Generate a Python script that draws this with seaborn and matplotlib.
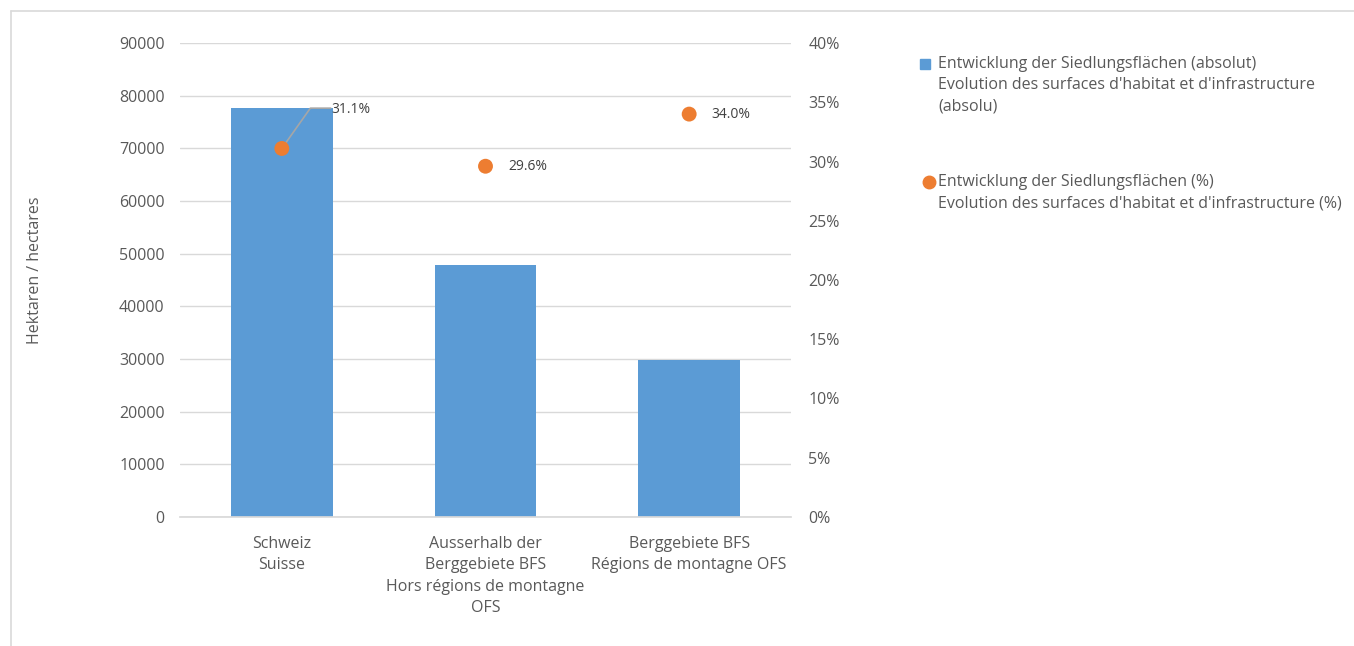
import matplotlib
matplotlib.use("Agg")
import matplotlib.pyplot as plt
import seaborn as sns
import pandas as pd
from matplotlib.lines import Line2D

categories = ["Schweiz\nSuisse",
              "Ausserhalb der\nBerggebiete BFS\nHors régions de montagne\nOFS",
              "Berggebiete BFS\nRégions de montagne OFS"]
absolute_ha = [77600, 47850, 29800]
percent = [31.1, 29.6, 34.0]
pct_labels = ["31.1%", "29.6%", "34.0%"]
left_ticks = [0, 10000, 20000, 30000, 40000, 50000, 60000, 70000, 80000, 90000]
right_ticks = [0, 5, 10, 15, 20, 25, 30, 35, 40]

legend_bar = "Entwicklung der Siedlungsflächen (absolut)\nEvolution des surfaces d'habitat et d'infrastructure\n(absolu)"
legend_pct = "Entwicklung der Siedlungsflächen (%)\nEvolution des surfaces d'habitat et d'infrastructure (%)"
ylabel = "Hektaren / hectares"

BLUE = "#5B9BD5"
ORANGE = "#ED7D31"
TXT = "#595959"
GRID = "#D9D9D9"
FS = 11.5

sns.set_theme(style="white")
plt.rcParams["font.family"] = ["Open Sans", "DejaVu Sans"]

W, H = 1354, 646
fig = plt.figure(figsize=(W / 100, H / 100), dpi=100)
ax = fig.add_axes([180 / W, 1 - 517 / H, (791 - 180) / W, (517 - 43) / H])

df = pd.DataFrame({"cat": categories, "abs": absolute_ha, "pct": percent})
sns.barplot(data=df, x="cat", y="abs", color=BLUE, width=0.5, ax=ax,
            saturation=1, edgecolor="none", zorder=2)
ax.set_ylim(0, 90000)
ax.set_xlim(-0.5, 2.5)
ax.set_yticks(left_ticks)
ax.set_yticklabels([str(t) for t in left_ticks], fontsize=FS, color=TXT)
ax.tick_params(axis="y", length=0, pad=11)
ax.tick_params(axis="x", length=0, pad=14)
ax.set_xticks(range(len(categories)))
ax.set_xticklabels(categories, fontsize=FS, color=TXT, linespacing=1.42)
ax.set_xlabel("")
ax.set_ylabel(ylabel, fontsize=FS, color=TXT, labelpad=0)
ax.yaxis.set_label_coords(-(180 - 43) / (791 - 180), (517 - 270) / 474)
ax.grid(axis="y", color=GRID, linewidth=1, zorder=0)
ax.set_axisbelow(True)
for s in ["top", "right", "left"]:
    ax.spines[s].set_visible(False)
ax.spines["bottom"].set_color(GRID)

ax2 = ax.twinx()
sns.scatterplot(data=df, x="cat", y="pct", color=ORANGE, s=115, edgecolor="none",
                ax=ax2, zorder=5, legend=False)
ax2.set_ylim(0, 40)
ax2.set_xlim(-0.5, 2.5)
ax2.set_yticks(right_ticks)
ax2.set_yticklabels([f"{t}%" for t in right_ticks], fontsize=FS, color=TXT)
ax2.tick_params(axis="y", length=0, pad=12.5)
ax2.set_ylabel("")
for s in ax2.spines.values():
    s.set_visible(False)

# data labels
x0, y0 = 0, percent[0]
ax2.plot([x0, x0 + 0.14, x0 + 0.24], [y0, 34.5, 34.5], color="#A6A6A6", lw=1.2, zorder=4)
ax2.text(x0 + 0.245, 34.4, pct_labels[0], fontsize=10, color="#404040", va="center", ha="left")
for i in (1, 2):
    ax2.text(i + 0.11, percent[i], pct_labels[i], fontsize=10, color="#404040",
             va="center", ha="left")

# legend as figure text
fig.lines.append(Line2D([925 / W], [1 - 64 / H], marker="s", markersize=7, color=BLUE,
                        transform=fig.transFigure, linestyle="none"))
fig.text(938 / W, 1 - 56 / H, legend_bar, fontsize=FS, color=TXT, va="top", ha="left",
         linespacing=1.45)
fig.lines.append(Line2D([929 / W], [1 - 182 / H], marker="o", markersize=9, color=ORANGE,
                        transform=fig.transFigure, linestyle="none"))
fig.text(938 / W, 1 - 174 / H, legend_pct, fontsize=FS, color=TXT, va="top", ha="left",
         linespacing=1.45)

# outer border (top and left visible)
fig.lines.append(Line2D([10.5 / W, 1], [1 - 10.5 / H, 1 - 10.5 / H], color=GRID, lw=1.2,
                        transform=fig.transFigure))
fig.lines.append(Line2D([10.5 / W, 10.5 / W], [0, 1 - 10.5 / H], color=GRID, lw=1.2,
                        transform=fig.transFigure))

fig.savefig("out.png", dpi=100)
